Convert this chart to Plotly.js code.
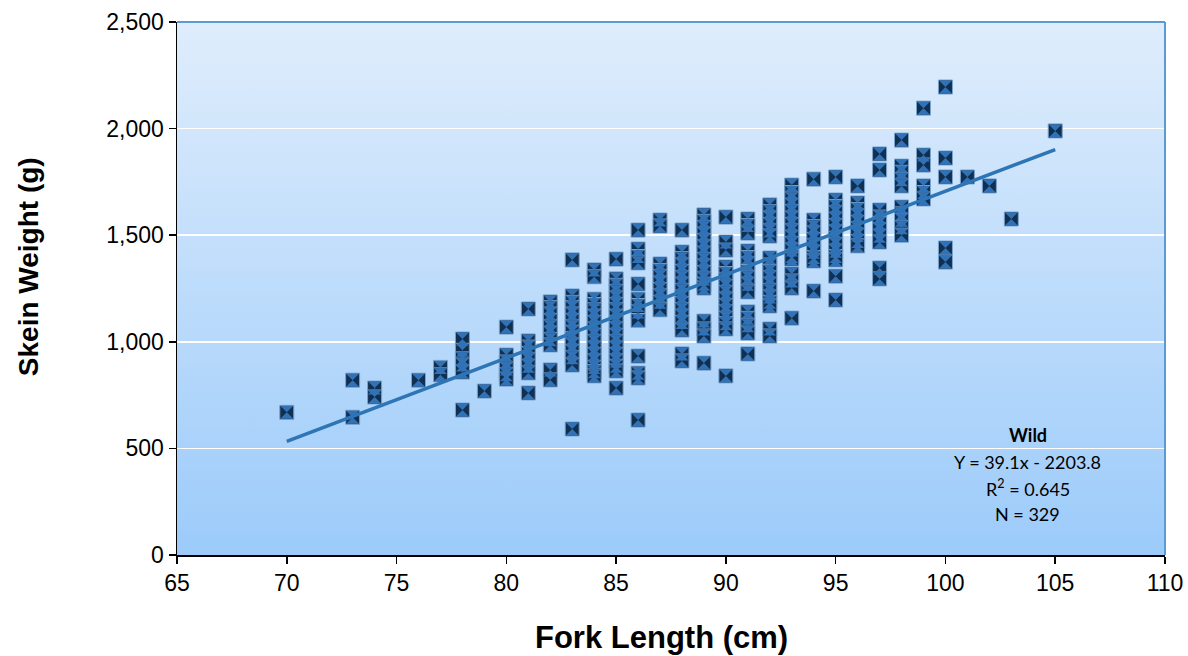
<!DOCTYPE html>
<html>
<head>
<meta charset="utf-8">
<script src="https://cdn.plot.ly/plotly-3.0.1.min.js"></script>
<style>
html,body{margin:0;padding:0;background:#ffffff;}
#chart{width:1188px;height:656px;}
</style>
</head>
<body>
<div id="chart"></div>
<script>
// Skein weight (g) for each fork-length column of points
const col70 = [669];
const col73 = [820, 646];
const col74 = [783, 741];
const col76 = [820];
const col77 = [880, 845];
const col78 = [1013, 960, 920, 891, 858, 680];
const col79 = [769];
const col80 = [1069, 938, 905, 872, 845, 825];
const col81 = [1154, 1004, 975, 945, 915, 885, 854, 760];
const col82 = [1187, 1160, 1130, 1100, 1070, 1040, 1010, 985, 868, 821];
const col83 = [1384, 1215, 1185, 1160, 1130, 1100, 1070, 1045, 1015, 985, 955, 925, 891, 591];
const col84 = [1337, 1305, 1200, 1175, 1150, 1120, 1090, 1060, 1030, 1000, 970, 940, 910, 880, 860, 840];
const col85 = [1388, 1295, 1265, 1235, 1205, 1175, 1150, 1120, 1090, 1060, 1030, 1000, 970, 940, 910, 885, 863, 783];
const col86 = [1524, 1435, 1400, 1370, 1271, 1200, 1170, 1140, 1100, 933, 853, 830, 633];
const col87 = [1571, 1543, 1365, 1335, 1305, 1275, 1245, 1215, 1185, 1150];
const col88 = [1524, 1421, 1390, 1360, 1330, 1300, 1270, 1240, 1210, 1180, 1150, 1120, 1090, 1055, 943, 910];
const col89 = [1595, 1565, 1535, 1505, 1475, 1445, 1415, 1385, 1355, 1325, 1295, 1270, 1252, 1097, 1060, 1027, 900];
const col90 = [1585, 1468, 1430, 1351, 1320, 1290, 1260, 1230, 1200, 1170, 1140, 1110, 1085, 1060, 840];
const col91 = [1576, 1545, 1510, 1426, 1395, 1365, 1330, 1300, 1270, 1234, 1140, 1110, 1075, 1041, 943];
const col92 = [1642, 1610, 1580, 1550, 1520, 1496, 1393, 1360, 1330, 1300, 1270, 1240, 1210, 1185, 1168, 1060, 1027];
const col93 = [1735, 1700, 1670, 1640, 1610, 1580, 1550, 1520, 1490, 1460, 1430, 1400, 1388, 1318, 1285, 1252, 1111];
const col94 = [1763, 1571, 1540, 1510, 1480, 1450, 1420, 1395, 1379, 1238];
const col95 = [1773, 1665, 1635, 1605, 1575, 1545, 1515, 1485, 1455, 1425, 1400, 1384, 1308, 1196];
const col96 = [1731, 1651, 1620, 1590, 1560, 1530, 1500, 1470, 1450];
const col97 = [1881, 1806, 1618, 1585, 1555, 1525, 1495, 1468, 1346, 1295];
const col98 = [1946, 1824, 1795, 1760, 1731, 1632, 1600, 1570, 1535, 1500];
const col99 = [2096, 1876, 1829, 1731, 1700, 1670];
const col100 = [2195, 1862, 1773, 1440, 1374];
const col101 = [1773];
const col102 = [1731];
const col103 = [1576];
const col105 = [1989];

const forkLengths = [70, 73, 74, 76, 77, 78, 79, 80, 81, 82, 83, 84, 85, 86, 87, 88, 89, 90, 91, 92, 93, 94, 95, 96, 97, 98, 99, 100, 101, 102, 103, 105];
const skeinColumns = [col70, col73, col74, col76, col77, col78, col79, col80, col81, col82, col83, col84, col85, col86, col87, col88, col89, col90, col91, col92, col93, col94, col95, col96, col97, col98, col99, col100, col101, col102, col103, col105];

// Regression: Y = 39.1x - 2203.8
const slope = 39.1;
const intercept = -2203.8;
const fitRange = [70, 105];

const xTicks = [65, 70, 75, 80, 85, 90, 95, 100, 105, 110];
const yTicks = [0, 500, 1000, 1500, 2000, 2500];
const yTickLabels = ["0", "500", "1,000", "1,500", "2,000", "2,500"];

const xTitle = 'Fork Length (cm)';
const yTitle = 'Skein Weight (g)';

const xs = [], ys = [];
forkLengths.forEach((fl, i) => {
  skeinColumns[i].forEach(v => { xs.push(fl); ys.push(v); });
});

const fitX = fitRange;
const fitY = fitRange.map(x => slope * x + intercept);

const gradSvg = '<svg xmlns="http://www.w3.org/2000/svg" width="10" height="100" preserveAspectRatio="none">' +
  '<defs><linearGradient id="g" x1="0" y1="0" x2="0" y2="1">' +
  '<stop offset="0" stop-color="#DFEDFC"/><stop offset="1" stop-color="#9CCBFA"/></linearGradient></defs>' +
  '<rect width="10" height="100" fill="url(#g)"/></svg>';
const gradUrl = 'data:image/svg+xml;base64,' + btoa(gradSvg);

const traces = [
  {
    x: xs, y: ys, type: 'scatter', mode: 'markers',
    marker: {symbol: 'square', size: 14, color: '#112F50', line: {color: '#7AA3CE', width: 1}},
    hoverinfo: 'x+y', showlegend: false
  },
  {
    x: xs, y: ys, type: 'scatter', mode: 'markers',
    marker: {symbol: 'hourglass', size: 13, color: '#3172B6', line: {width: 0}},
    hoverinfo: 'skip', showlegend: false
  },
  {
    x: fitX, y: fitY, type: 'scatter', mode: 'lines',
    line: {color: '#2E75B6', width: 3.5},
    hoverinfo: 'skip', showlegend: false
  }
];

const annFont = {family: 'Lato, "Open Sans", sans-serif', size: 18, color: '#000000'};
const titleFont = {family: '"Liberation Sans", Arial, sans-serif', color: '#000000'};
const layout = {
  width: 1188, height: 656,
  margin: {l: 177, r: 23, t: 22, b: 101},
  paper_bgcolor: '#ffffff',
  plot_bgcolor: 'rgba(0,0,0,0)',
  font: {family: '"Liberation Sans", Arial, sans-serif', color: '#000000'},
  images: [{
    source: gradUrl, xref: 'paper', yref: 'paper', x: 0, y: 1, sizex: 1, sizey: 1,
    sizing: 'stretch', layer: 'below', xanchor: 'left', yanchor: 'top'
  }],
  xaxis: {
    range: [65, 110], tickvals: xTicks, ticks: 'outside', ticklen: 7, tickwidth: 1.5, tickcolor: '#000',
    showline: true, linecolor: '#000', linewidth: 1.5, showgrid: false, zeroline: false,
    tickfont: {size: 23}, automargin: false
  },
  yaxis: {
    range: [0, 2500], tickvals: yTicks, ticktext: yTickLabels, ticks: 'outside', ticklen: 7, tickwidth: 1.5, tickcolor: '#000',
    showline: true, linecolor: '#000', linewidth: 1.5, showgrid: true, gridcolor: '#FFFFFF', gridwidth: 1.5, zeroline: false,
    tickfont: {size: 23}, automargin: false
  },
  shapes: [
    {type: 'line', xref: 'paper', yref: 'paper', x0: 0, x1: 1, y0: 1, y1: 1, line: {color: '#5B9BD5', width: 2}, layer: 'above'},
    {type: 'line', xref: 'paper', yref: 'paper', x0: 1, x1: 1, y0: 0, y1: 1, line: {color: '#5B9BD5', width: 2}, layer: 'above'}
  ],
  annotations: [
    {xref: 'paper', yref: 'paper', x: 0.4899, y: -0.1557, text: '<b>' + xTitle + '</b>', showarrow: false,
     font: Object.assign({size: 31}, titleFont), xanchor: 'center', yanchor: 'middle'},
    {xref: 'paper', yref: 'paper', x: -0.1508, y: 0.54, text: '<b>' + yTitle + '</b>', showarrow: false, textangle: -90,
     font: Object.assign({size: 28}, titleFont), xanchor: 'center', yanchor: 'middle'},
    {xref: 'paper', yref: 'paper', x: 0.861, y: 0.225, text: '<b>Wild</b>', showarrow: false, font: annFont, xanchor: 'center', yanchor: 'middle'},
    {xref: 'paper', yref: 'paper', x: 0.861, y: 0.1745, text: 'Y = 39.1x - 2203.8', showarrow: false, font: annFont, xanchor: 'center', yanchor: 'middle'},
    {xref: 'paper', yref: 'paper', x: 0.861, y: 0.1257, text: 'R<sup>2</sup> = 0.645', showarrow: false, font: annFont, xanchor: 'center', yanchor: 'middle'},
    {xref: 'paper', yref: 'paper', x: 0.861, y: 0.077, text: 'N = 329', showarrow: false, font: annFont, xanchor: 'center', yanchor: 'middle'}
  ]
};

Plotly.newPlot('chart', traces, layout, {displayModeBar: false, staticPlot: true});
</script>
</body>
</html>
